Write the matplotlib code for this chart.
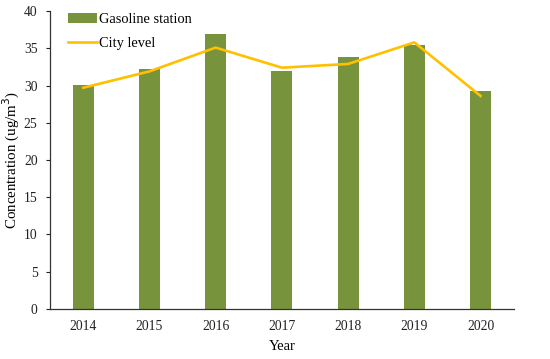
import numpy as np
import matplotlib.pyplot as plt

years = ['2014', '2015', '2016', '2017', '2018', '2019', '2020']
gasoline = [30.1, 32.2, 36.9, 32.0, 33.9, 35.5, 29.3]
city = [29.7, 31.9, 35.1, 32.4, 32.9, 35.8, 28.6]

plt.rcParams['font.family'] = ['Liberation Serif', 'DejaVu Serif']

fig = plt.figure(figsize=(5.5, 3.59), dpi=100)
ax = fig.add_axes([0.091, 0.14, 0.843, 0.829])

x = np.arange(len(years))
bars = ax.bar(x, gasoline, width=0.32, color='#77933C', label='Gasoline station', zorder=2)
line, = ax.plot(x, city, color='#FFC000', lw=1.9, label='City level', zorder=3)

ax.set_xlim(-0.5, len(years) - 0.5)
ax.set_ylim(0, 40)
ax.set_yticks(range(0, 41, 5))
ax.set_xticks(x)
ax.set_xticklabels(years)
ax.tick_params(axis='both', labelsize=9.8, colors='#222222')
ax.tick_params(axis='x', length=0, pad=8)
ax.tick_params(axis='y', length=3, width=0.8, pad=6)

for s in ['top', 'right']:
    ax.spines[s].set_visible(False)
for s in ['left', 'bottom']:
    ax.spines[s].set_color('#333333')
    ax.spines[s].set_linewidth(0.9)

ax.set_xlabel('Year', fontsize=10.5, labelpad=5)
ax.set_ylabel('Concentration (ug/m$^3$)', fontsize=10.8, labelpad=1)

ax.legend([bars, line], ['Gasoline station', 'City level'],
          loc='upper left', bbox_to_anchor=(0.026, 1.012), frameon=False,
          fontsize=10.4, handlelength=2.0, handletextpad=0.15, labelspacing=0.75,
          borderaxespad=0)

fig.savefig('out.png', dpi=100)
